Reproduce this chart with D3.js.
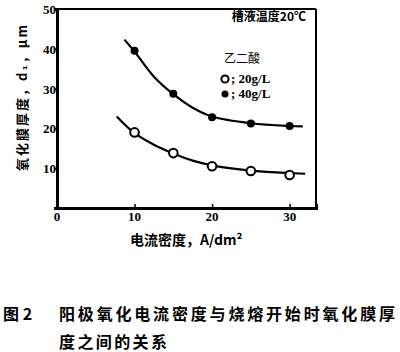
<html>
<head>
<meta charset="utf-8">
<script src="https://d3js.org/d3.v7.min.js"></script>
<style>
body{margin:0;background:#fff;}
</style>
</head>
<body>
<script>
// measured points
var current = [10, 15, 20, 25, 30];
var acid20 = [19, 13.8, 10.5, 9.3, 8.3];
var acid40 = [39.5, 28.7, 22.8, 21.2, 20.6];

// fitted curves
var fit20x = [7.7, 10, 12.5, 15, 17.5, 20, 25, 30, 32];
var fit20y = [23, 18.8, 15.9, 13.7, 11.9, 10.7, 9.4, 8.8, 8.6];
var fit40x = [8.7, 10, 12.5, 15, 17.5, 20, 25, 30, 31.7];
var fit40y = [42.3, 39.3, 33, 28.6, 25.2, 23, 21.3, 20.6, 20.5];

var xTicks = [0, 10, 20, 30];
var yTicks = [10, 20, 30, 40, 50];

var svg = d3.select("body").append("svg")
  .attr("width", 400).attr("height", 352);

var x = d3.scaleLinear().domain([0, 33.4]).range([57, 316]);
var y = d3.scaleLinear().domain([0, 50]).range([208, 9]);

var numFont = "'Liberation Serif', serif";
var cjk = "'Noto Sans CJK SC', sans-serif";

// frame top / right
svg.append("line").attr("x1", x(0)).attr("x2", x(33.4)).attr("y1", y(50)).attr("y2", y(50))
  .attr("stroke", "#000").attr("stroke-width", 2);
svg.append("line").attr("x1", x(33.4)).attr("x2", x(33.4)).attr("y1", y(50)).attr("y2", y(0))
  .attr("stroke", "#000").attr("stroke-width", 2);

// axes
var gx = svg.append("g").attr("transform", "translate(0," + y(0) + ")")
  .call(d3.axisTop(x).tickValues(xTicks.slice(1)).tickSize(4).tickFormat(""));
gx.select(".domain").attr("stroke-width", 3);
gx.selectAll(".tick line").attr("stroke-width", 1.5);
svg.selectAll(".xl").data(xTicks).enter().append("text")
  .attr("x", function(d){ return x(d); }).attr("y", 221)
  .attr("text-anchor", "middle").attr("font-family", numFont).attr("font-weight", "bold")
  .attr("font-size", 13).text(function(d){ return d; });

var gy = svg.append("g").attr("transform", "translate(" + x(0) + ",0)")
  .call(d3.axisLeft(y).tickValues(yTicks).tickSize(3).tickFormat(""));
gy.select(".domain").attr("stroke-width", 3);
gy.selectAll(".tick line").attr("stroke-width", 1.5);
svg.selectAll(".yl").data(yTicks).enter().append("text")
  .attr("x", 56).attr("y", function(d){ return y(d) + 5; })
  .attr("text-anchor", "end").attr("font-family", numFont).attr("font-weight", "bold")
  .attr("font-size", 13).text(function(d){ return d; });

// curves
var line = d3.line().curve(d3.curveCatmullRom.alpha(0.5))
  .x(function(d){ return x(d[0]); }).y(function(d){ return y(d[1]); });
svg.append("path").datum(d3.zip(fit40x, fit40y)).attr("d", line)
  .attr("fill", "none").attr("stroke", "#000").attr("stroke-width", 2.2);
svg.append("path").datum(d3.zip(fit20x, fit20y)).attr("d", line)
  .attr("fill", "none").attr("stroke", "#000").attr("stroke-width", 2.2);

// points
svg.selectAll(".p40").data(d3.zip(current, acid40)).enter().append("circle")
  .attr("cx", function(d){ return x(d[0]); }).attr("cy", function(d){ return y(d[1]); })
  .attr("r", 4).attr("fill", "#000");
svg.selectAll(".p20").data(d3.zip(current, acid20)).enter().append("circle")
  .attr("cx", function(d){ return x(d[0]); }).attr("cy", function(d){ return y(d[1]); })
  .attr("r", 4.3).attr("fill", "#fff").attr("stroke", "#000").attr("stroke-width", 2);

// annotations
svg.append("text").attr("x", 306).attr("y", 21).attr("text-anchor", "end")
  .attr("font-family", cjk).attr("font-weight", "bold").attr("font-size", 12)
  .text("槽液温度20℃");
svg.append("text").attr("x", 224).attr("y", 63)
  .attr("font-family", cjk).attr("font-size", 12).text("乙二酸");
var leg = [["20g/L", false], ["40g/L", true]];
leg.forEach(function(l, i){
  var cy = 79 + i * 15;
  svg.append("circle").attr("cx", 225).attr("cy", cy).attr("r", l[1] ? 3.5 : 3.6)
    .attr("fill", l[1] ? "#000" : "#fff").attr("stroke", "#000").attr("stroke-width", l[1] ? 0 : 2);
  svg.append("text").attr("x", 231).attr("y", cy + 4).attr("font-family", numFont)
    .attr("font-weight", "bold").attr("font-size", 13).text("; " + l[0]);
});

// axis titles
svg.append("text").attr("transform", "translate(27,98) rotate(-90)").attr("text-anchor", "middle")
  .attr("font-family", cjk).attr("font-weight", "bold").attr("font-size", 13)
  .attr("textLength", 146).attr("lengthAdjust", "spacing")
  .text("氧化膜厚度，d₁，μm");
svg.append("text").attr("x", 130).attr("y", 245)
  .attr("font-family", cjk).attr("font-weight", "bold").attr("font-size", 14)
  .text("电流密度，A/dm²");

// caption
var cap = { "font-family": cjk, "font-weight": "bold", "font-size": 16 };
function capText(tx, ty, s, len) {
  var t = svg.append("text").attr("x", tx).attr("y", ty).text(s);
  Object.keys(cap).forEach(function(k){ t.attr(k, cap[k]); });
  if (len) t.attr("textLength", len).attr("lengthAdjust", "spacing");
  return t;
}
capText(3, 320, "图 2");
capText(59, 320, "阳极氧化电流密度与烧熔开始时氧化膜厚", 336);
capText(59, 348, "度之间的关系", 108);
</script>
</body>
</html>
